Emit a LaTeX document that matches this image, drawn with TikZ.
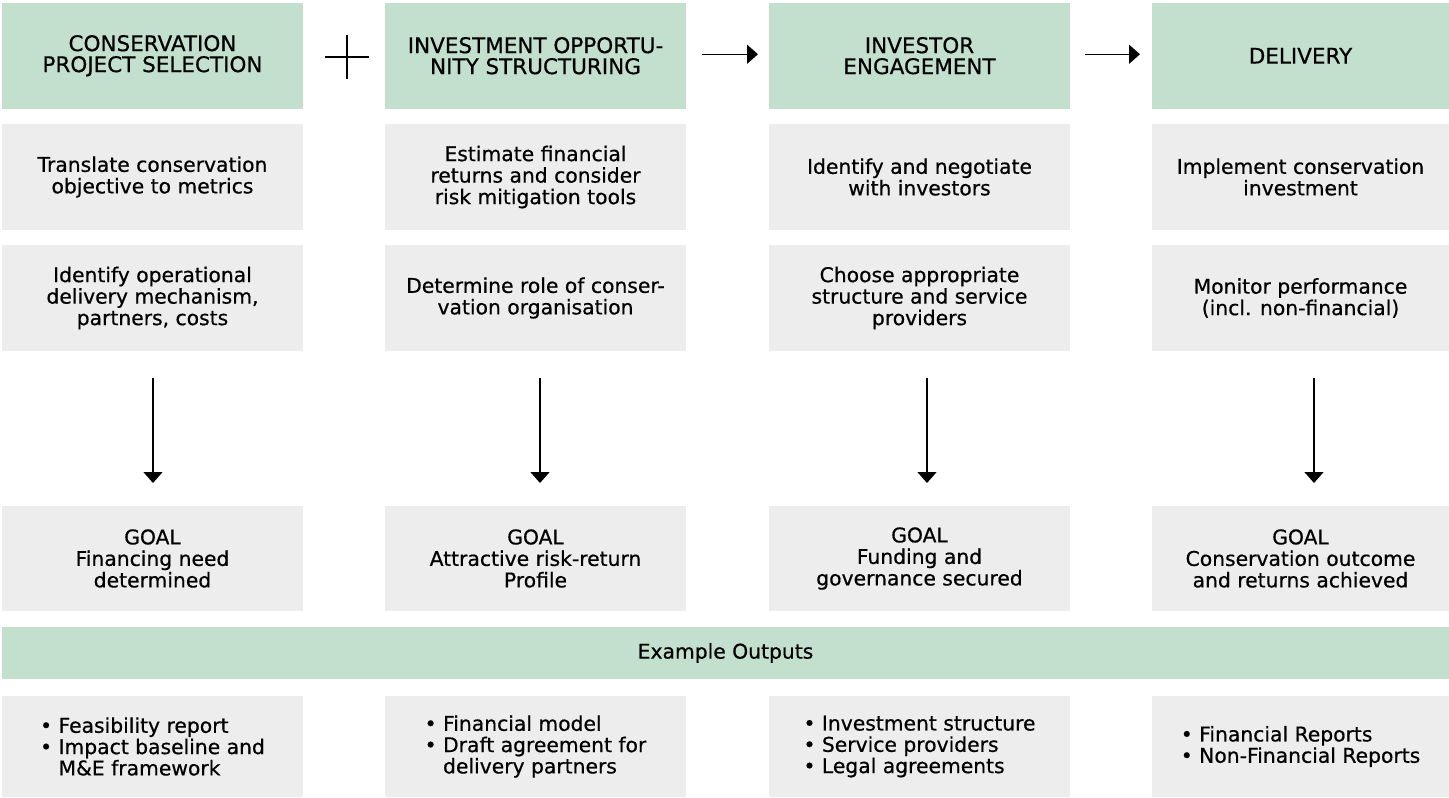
\documentclass[tikz,border=0pt]{standalone}
\usepackage{fontspec}
\setmainfont[FakeBold=0.6]{DejaVu Sans}
\usetikzlibrary{arrows.meta}
\definecolor{hdr}{HTML}{C2E0CD}
\definecolor{cell}{HTML}{EDEDED}
\definecolor{ink}{HTML}{000000}
\begin{document}
\begin{tikzpicture}[x=1pt,y=-1pt,
  base/.style={anchor=north west,inner sep=0pt,outer sep=0pt,align=center,text=ink},
  headbox/.style={base,fill=hdr,minimum height=105.5pt,font=\fontsize{21.5}{21}\selectfont},
  cellbox/.style={base,fill=cell,minimum height=106pt,font=\fontsize{20.3}{21.5}\selectfont},
  goalbox/.style={base,fill=cell,minimum height=105pt,font=\fontsize{20.3}{21.5}\selectfont},
  outbox/.style={base,fill=cell,align=left,minimum height=101pt,font=\fontsize{20.3}{21.3}\selectfont},
  wA/.style={minimum width=301pt},
  wB/.style={minimum width=297pt},
  arr/.style={draw=ink,line width=1.5pt,-{Triangle[width=19pt,length=11pt]}}
]
\useasboundingbox (0,0) rectangle (1449,798);

% headers
\node[headbox,wA] (h1) at (2,3) {CONSERVATION\\PROJECT SELECTION};
\node[headbox,wA] (h2) at (385,3) {INVESTMENT OPPORTU-\\NITY STRUCTURING};
\node[headbox,wA] (h3) at (769,3) {INVESTOR\\ENGAGEMENT};
\node[headbox,wB] (h4) at (1152,3) {DELIVERY};

% row 2
\node[cellbox,wA] (a1) at (2,124) {Translate conservation\\objective to metrics};
\node[cellbox,wA] (a2) at (385,124) {Estimate financial\\returns and consider\\risk mitigation tools};
\node[cellbox,wA] (a3) at (769,124) {Identify and negotiate\\with investors};
\node[cellbox,wB] (a4) at (1152,124) {Implement conservation\\investment};

% row 3
\node[cellbox,wA] (b1) at (2,245) {Identify operational\\delivery mechanism,\\partners, costs};
\node[cellbox,wA] (b2) at (385,245) {Determine role of conser-\\vation organisation};
\node[cellbox,wA] (b3) at (769,245) {Choose appropriate\\structure and service\\providers};
\node[cellbox,wB] (b4) at (1152,245) {Monitor performance\\(incl. non-financial)};

% goals
\node[goalbox,wA] (g1) at (2,506) {GOAL\\Financing need\\determined};
\node[goalbox,wA] (g2) at (385,506) {GOAL\\Attractive risk-return\\Profile};
\node[goalbox,wA] (g3) at (769,506) {GOAL\\Funding and\\governance secured};
\node[goalbox,wB] (g4) at (1152,506) {GOAL\\Conservation outcome\\and returns achieved};

% example outputs bar
\node[base,fill=hdr,minimum width=1447pt,minimum height=52pt,font=\fontsize{20.3}{21.5}\selectfont] (ex) at (2,627) {Example Outputs};

% outputs
\node[outbox,wA] (o1) at (2,696) {• Feasibility report\\• Impact baseline and\\\phantom{• }M\&E framework};
\node[outbox,wA] (o2) at (385,696) {• Financial model\\• Draft agreement for\\\phantom{• }delivery partners};
\node[outbox,wA] (o3) at (769,696) {• Investment structure\\• Service providers\\• Legal agreements};
\node[outbox,wB] (o4) at (1152,696) {• Financial Reports\\• Non-Financial Reports};

% plus sign between first two headers
\draw[draw=ink,line width=1.4pt] (325,57) -- (369,57) (347,35) -- (347,79);

% horizontal arrows
\draw[arr,shorten <=16pt,shorten >=11pt] ([yshift=1.5pt]h2.east) -- ([yshift=1.5pt]h3.west);
\draw[arr,shorten <=15pt,shorten >=12pt] ([yshift=1.5pt]h3.east) -- ([yshift=1.5pt]h4.west);

% vertical arrows
\draw[arr,shorten <=27pt,shorten >=23pt] ([xshift=0.5pt]b1.south) -- ([xshift=0.5pt]g1.north);
\draw[arr,shorten <=27pt,shorten >=23pt] ([xshift=4.5pt]b2.south) -- ([xshift=4.5pt]g2.north);
\draw[arr,shorten <=27pt,shorten >=23pt] ([xshift=7.5pt]b3.south) -- ([xshift=7.5pt]g3.north);
\draw[arr,shorten <=27pt,shorten >=23pt] ([xshift=13.5pt]b4.south) -- ([xshift=13.5pt]g4.north);
\end{tikzpicture}
\end{document}
